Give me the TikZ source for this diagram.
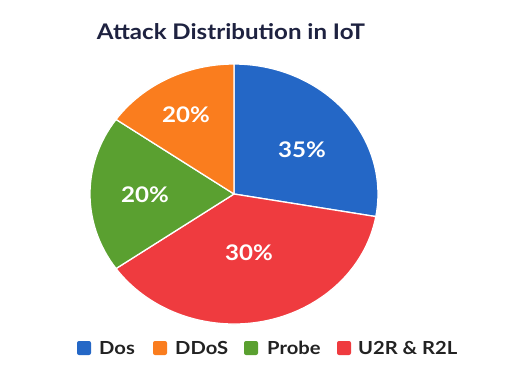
\documentclass[tikz,border=0pt]{standalone}
\usepackage{fontspec}
\setmainfont{Lato}
\newfontfamily\widesans[FakeStretch=1.12]{Lato}
\usetikzlibrary{calc}
\definecolor{cdos}{HTML}{2467C6}
\definecolor{cddos}{HTML}{FA7D1E}
\definecolor{cprobe}{HTML}{5AA030}
\definecolor{cu2r}{HTML}{EF3B3F}
\definecolor{ctitle}{HTML}{1E2240}
\definecolor{clegend}{HTML}{222222}
\tikzset{
  slice/.style={draw=white, line width=1.3pt, line join=round},
  pct/.style={text=white, font=\widesans\fontsize{21.5}{24}\selectfont\bfseries},
  legsq/.style={minimum size=14pt, inner sep=0pt, rounded corners=2pt},
  legtx/.style={text=clegend, font=\widesans\fontsize{18}{20}\selectfont\bfseries, inner sep=0pt, anchor=west},
}
\begin{document}
\begin{tikzpicture}[x=1pt, y=1pt]
\useasboundingbox[fill=white] (0,0) rectangle (505,376);
% pie centre and radii
\coordinate (c) at (234,182);
\def\rx{144}\def\ry{130}
% slices, clockwise from the top
\fill[cdos, slice] (c) -- ($(c)+(90:\rx pt and \ry pt)$)
  arc[start angle=90, end angle=-10, x radius=\rx, y radius=\ry] -- cycle;
\fill[cu2r, slice] (c) -- ($(c)+(350:\rx pt and \ry pt)$)
  arc[start angle=350, end angle=215, x radius=\rx, y radius=\ry] -- cycle;
\fill[cprobe, slice] (c) -- ($(c)+(215:\rx pt and \ry pt)$)
  arc[start angle=215, end angle=145, x radius=\rx, y radius=\ry] -- cycle;
\fill[cddos, slice] (c) -- ($(c)+(145:\rx pt and \ry pt)$)
  arc[start angle=145, end angle=90, x radius=\rx, y radius=\ry] -- cycle;
% slice labels
\node[pct] (pdos) at (302,226) {35\%};
\node[pct] (pu2r) at (249,123) {30\%};
\node[pct] (pprobe) at (145,181) {20\%};
\node[pct] (pddos) at (186,261) {20\%};
% title
\node[text=ctitle, font=\widesans\fontsize{21.5}{24}\selectfont\bfseries] (title) at (231,344) {Attack Distribution in IoT};
% legend
\node[legsq, fill=cdos] (sq1) at (84,28) {};
\node[legtx] (l1) at (99,28) {Dos};
\node[legsq, fill=cddos] (sq2) at (160,28) {};
\node[legtx] (l2) at (175,28) {DDoS};
\node[legsq, fill=cprobe] (sq3) at (251,28) {};
\node[legtx] (l3) at (267,28) {Probe};
\node[legsq, fill=cu2r] (sq4) at (344,28) {};
\node[legtx] (l4) at (358,28) {U2R \& R2L};
\end{tikzpicture}
\end{document}
